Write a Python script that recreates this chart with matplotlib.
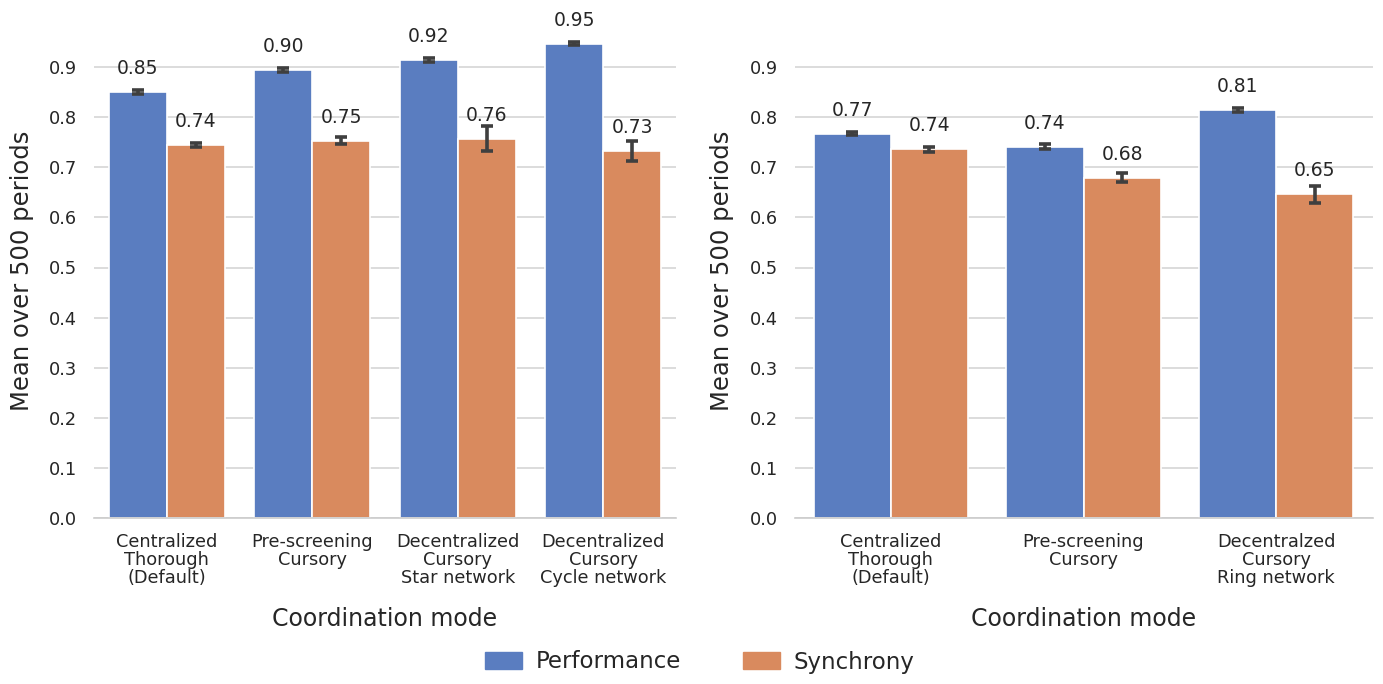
import matplotlib
matplotlib.use("Agg")
import matplotlib.pyplot as plt
import matplotlib.patches as mpatches
import numpy as np

left_cats = ["Centralized\nThorough\n(Default)", "Pre-screening\nCursory",
             "Decentralized\nCursory\nStar network", "Decentralized\nCursory\nCycle network"]
left_perf = [0.850, 0.895, 0.915, 0.947]
left_perf_err = [0.004, 0.004, 0.004, 0.003]
left_sync = [0.744, 0.753, 0.757, 0.733]
left_sync_err = [0.004, 0.007, 0.025, 0.020]

right_cats = ["Centralized\nThorough\n(Default)", "Pre-screening\nCursory",
              "Decentralzed\nCursory\nRing network"]
right_perf = [0.767, 0.741, 0.814]
right_perf_err = [0.003, 0.005, 0.004]
right_sync = [0.736, 0.679, 0.646]
right_sync_err = [0.005, 0.009, 0.017]

series_names = ["Performance", "Synchrony"]
yticks = [0.0, 0.1, 0.2, 0.3, 0.4, 0.5, 0.6, 0.7, 0.8, 0.9]

BLUE = "#5a7dc0"
ORANGE = "#d98a5e"
ERR = "#3f3f3f"
TXT = "#262626"

plt.rcParams['font.family'] = ['DejaVu Sans']
fig = plt.figure(figsize=(13.83, 6.84), dpi=100)
top_px = 24
ax1 = fig.add_axes([94/1383, 166/684, 582/1383, (518 - top_px)/684])
ax2 = fig.add_axes([794.5/1383, 166/684, 578/1383, (518 - top_px)/684])

def draw(ax, cats, perf, perr, sync, serr):
    x = np.arange(len(cats))
    w = 0.4
    for vals, errs, off, col in [(perf, perr, -w/2, BLUE), (sync, serr, w/2, ORANGE)]:
        ax.bar(x + off, vals, width=w, color=col, edgecolor="white", linewidth=1.2, zorder=2)
        ax.errorbar(x + off, vals, yerr=errs, fmt="none", ecolor=ERR, elinewidth=2.6,
                    capsize=4, capthick=2.6, zorder=3)
        for xi, v in zip(x + off, vals):
            ax.annotate(f"{v:.2f}", (xi, v), xytext=(0, 10), textcoords="offset points",
                        ha="center", va="bottom", fontsize=13.5, color=TXT,
                        annotation_clip=False)
    ax.set_xlim(-0.5, len(cats) - 0.5)
    ax.set_ylim(0, (518 - top_px)/501)
    ax.set_yticks(yticks)
    ax.set_yticklabels([f"{t:.1f}" for t in yticks])
    ax.set_xticks(x)
    ax.set_xticklabels(cats, fontsize=12.8, color=TXT, linespacing=1.0)
    ax.tick_params(axis="y", labelsize=12.8, colors=TXT, length=0, pad=12)
    ax.tick_params(axis="x", length=0, pad=11)
    ax.yaxis.grid(True, color="#d5d5d5", linewidth=1.2, zorder=0)
    ax.set_axisbelow(True)
    for s in ["left", "right", "top"]:
        ax.spines[s].set_visible(False)
    ax.spines["bottom"].set_color("#cccccc")
    ax.spines["bottom"].set_linewidth(1.2)
    ax.set_xlabel("Coordination mode", fontsize=17, color=TXT, labelpad=14)
    ax.set_ylabel("Mean over 500 periods", fontsize=17.5, color=TXT, labelpad=11)

draw(ax1, left_cats, left_perf, left_perf_err, left_sync, left_sync_err)
draw(ax2, right_cats, right_perf, right_perf_err, right_sync, right_sync_err)

handles = [mpatches.Patch(color=BLUE, label=series_names[0]),
           mpatches.Patch(color=ORANGE, label=series_names[1])]
fig.legend(handles=handles, loc="center", bbox_to_anchor=(0.506, 22/684), ncol=2,
           frameon=False, fontsize=16.5, handlelength=1.6, handleheight=0.75,
           columnspacing=2.7, handletextpad=0.6, labelcolor=TXT)

fig.savefig("out.png", dpi=100)
